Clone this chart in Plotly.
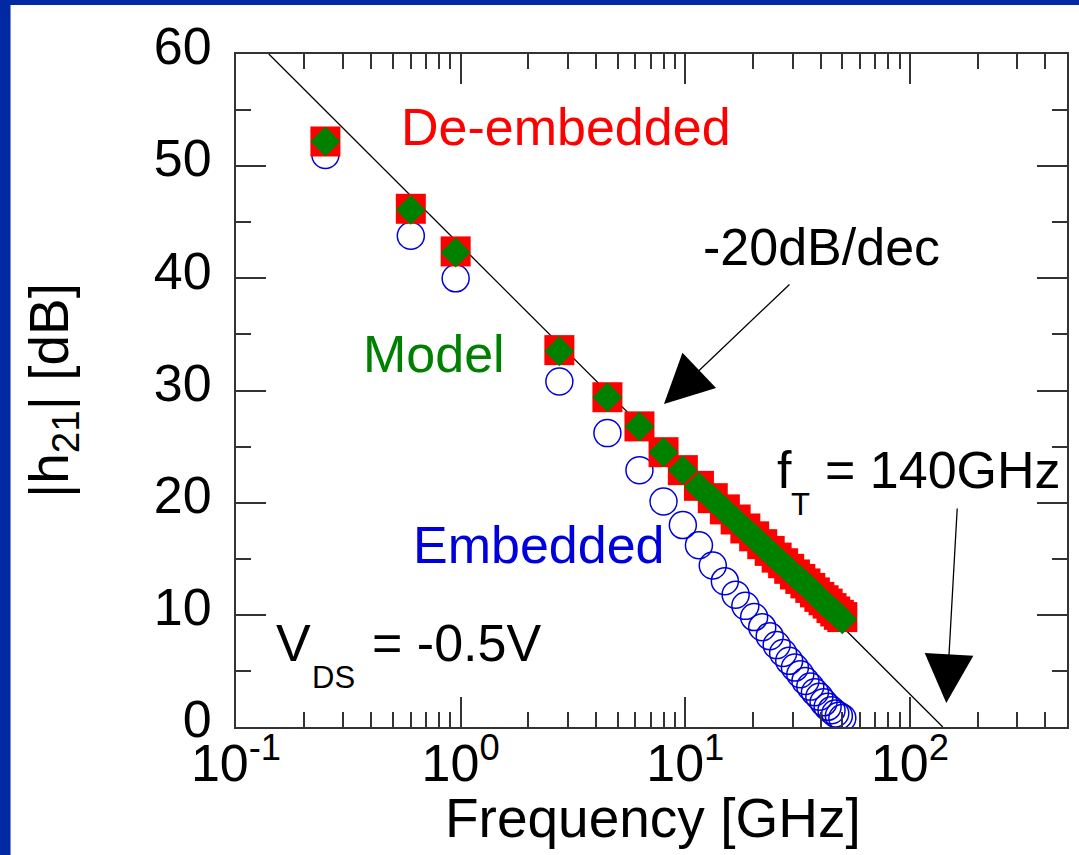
import plotly.graph_objects as go

# ---------------- data ----------------
freq_ghz = [0.25, 0.6, 0.95, 2.75, 4.5, 6.25, 8.0, 9.75, 11.5, 13.25, 15.0, 16.75,
            18.5, 20.25, 22.0, 23.75, 25.5, 27.25, 29.0, 30.75, 32.5, 34.25, 36.0,
            37.75, 39.5, 41.25, 43.0, 44.75, 46.5, 48.25, 50.0]

deembedded_db = [52.2, 46.2, 42.4, 33.6, 29.4, 26.8, 24.5, 22.9, 21.5, 20.4, 19.4, 18.5,
                 17.7, 17.0, 16.3, 15.7, 15.1, 14.6, 14.1, 13.6, 13.2, 12.8, 12.4,
                 12.0, 11.6, 11.3, 11.0, 10.6, 10.3, 10.0, 9.8]

model_db = [52.2, 46.1, 42.3, 33.5, 29.4, 26.8, 24.5, 22.9, 21.4, 20.3, 19.3, 18.4,
            17.6, 16.9, 16.2, 15.6, 15.0, 14.5, 14.0, 13.5, 13.1, 12.7, 12.3,
            11.9, 11.5, 11.1, 10.8, 10.5, 10.2, 9.9, 9.6]

embedded_db = [51.0, 43.8, 40.0, 30.8, 26.2, 22.9, 20.1, 18.0, 16.2, 14.4, 13.0, 11.8,
               10.8, 9.8, 8.9, 8.1, 7.3, 6.6, 5.9, 5.3, 4.7, 4.1, 3.6,
               3.1, 2.7, 2.2, 1.8, 1.5, 1.2, 1.0, 0.8]

# -20 dB/dec reference line through fT = 140 GHz
slope_line_f = [0.14, 140.0]
slope_line_db = [60.0, 0.0]

x_tick_vals = [0.1, 1, 10, 100]
x_tick_text = ["10<sup>-1</sup>", "10<sup>0</sup>", "10<sup>1</sup>", "10<sup>2</sup>"]
y_tick_vals = [0, 10, 20, 30, 40, 50, 60]

# ---------------- layout geometry ----------------
W, H = 1079, 855
L, R, T, B = 236, 1069, 54, 727
FONT = "Liberation Sans, Arial, Helvetica, sans-serif"
RED, GREEN, BLUE = "#FF0000", "#008000", "#0000DD"
AXC = "#333333"


def px(x):
    return (x - L) / (R - L)


def py(y):
    return (B - y) / (B - T)


fig = go.Figure()

fig.add_trace(go.Scatter(x=slope_line_f, y=slope_line_db, mode="lines",
                         line=dict(color="black", width=1.3), showlegend=False))
fig.add_trace(go.Scatter(x=freq_ghz, y=embedded_db, mode="markers",
                         marker=dict(symbol="circle-open", size=27,
                                     line=dict(color=BLUE, width=1.5), color=BLUE),
                         showlegend=False))
fig.add_trace(go.Scatter(x=freq_ghz, y=deembedded_db, mode="markers",
                         marker=dict(symbol="square", size=30, color=RED,
                                     line=dict(width=0)),
                         showlegend=False))
fig.add_trace(go.Scatter(x=freq_ghz, y=model_db, mode="markers",
                         marker=dict(symbol="diamond", size=23, color=GREEN,
                                     line=dict(width=0)),
                         showlegend=False))

axis_common = dict(showline=True, linecolor=AXC, linewidth=2, mirror="allticks",
                   ticks="inside", ticklen=30, tickwidth=1.5, tickcolor=AXC,
                   showgrid=False, zeroline=False,
                   tickfont=dict(family=FONT, size=52, color="black"))

fig.update_xaxes(type="log", range=[-1, 2.69897], tickmode="array",
                 tickvals=x_tick_vals, ticktext=x_tick_text,
                 minor=dict(ticks="inside", ticklen=15, tickwidth=1.5,
                            tickcolor=AXC, dtick="D1", showgrid=False),
                 ticklabelstandoff=-10,
                 **axis_common)
fig.update_yaxes(range=[0, 60], tickmode="array", tickvals=y_tick_vals,
                 minor=dict(ticks="inside", ticklen=15, tickwidth=1.5,
                            tickcolor=AXC, dtick=5, showgrid=False),
                 title=dict(text="|h<sub>21</sub>| [dB]",
                            font=dict(family=FONT, size=55, color="black"),
                            standoff=68),
                 ticklabelstandoff=12, ticklabelshift=-8,
                 **axis_common)

ann = []


def text(t, x, y, color="black", size=52, xanchor="center"):
    ann.append(dict(text=t, x=px(x), y=py(y), xref="paper", yref="paper",
                    xanchor=xanchor, yanchor="middle", showarrow=False,
                    font=dict(family=FONT, size=size, color=color)))


# x-axis title
text("Frequency [GHz]", 654, 818, size=55)

text("De-embedded", 567, 127, RED)
text("Model", 434, 354, GREEN)
text("Embedded", 540, 545, BLUE)
text("-20dB/dec", 823, 247)
text("f", 776, 470, xanchor="left")
text("T", 790, 504, size=31, xanchor="left")
text("= 140GHz", 824, 470, xanchor="left")
text("V", 274, 643, xanchor="left")
text("DS", 310, 677, size=31, xanchor="left")
text("= -0.5V", 370, 643, xanchor="left")

# arrows (tip position, tail offset in pixels)
for tip, tail in [((665, 404), (792, 283)), ((948, 703), (959, 507))]:
    ann.append(dict(text="", x=px(tip[0]), y=py(tip[1]), xref="paper", yref="paper",
                    showarrow=True, arrowhead=2, arrowwidth=1.3, arrowsize=7.5,
                    arrowcolor="black", ax=tail[0] - tip[0], ay=tail[1] - tip[1]))

# blue frame on the left and top edges of the slide
frame = "#0029A3"
shapes = [
    dict(type="rect", xref="paper", yref="paper", x0=px(-5), x1=px(10),
         y0=py(900), y1=py(-5), fillcolor=frame, line=dict(width=0), layer="above"),
    dict(type="rect", xref="paper", yref="paper", x0=px(-5), x1=px(1100),
         y0=py(5), y1=py(-5), fillcolor=frame, line=dict(width=0), layer="above"),
]

fig.update_layout(width=W, height=H, margin=dict(l=L, r=W - R, t=T, b=H - B),
                  paper_bgcolor="white", plot_bgcolor="white",
                  annotations=ann, shapes=shapes, showlegend=False)

fig.write_html("out.html")
